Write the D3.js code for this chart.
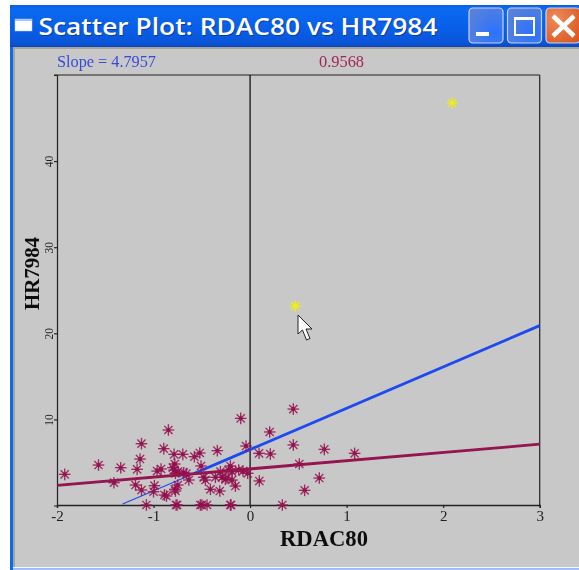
<!DOCTYPE html>
<html><head><meta charset="utf-8">
<script src="https://cdn.jsdelivr.net/npm/d3@7/dist/d3.min.js"></script>
<style>html,body{margin:0;padding:0;background:#fff;overflow:hidden}svg{display:block}</style>
</head><body><svg id="c" width="579" height="570"></svg>
<script>
const title = "Scatter Plot: RDAC80 vs HR7984";
const xLabel = "RDAC80", yLabel = "HR7984";
const slopeText = "Slope = 4.7957", slope2Text = "0.9568";
const xTicks = [-2,-1,0,1,2,3];
const yTicks = [10,20,30,40];
const pointsX = [-1.92,-1.57,-1.34,-1.41,-1.17,-1.14,-1.125,-0.846,-0.894,-0.787,-0.697,-0.577,-0.521,-0.339,-0.097,-0.042,0.093,0.21,0.203,0.448,0.448,0.51,0.769,1.083,0.717,0.565,0.096,-0.152,
 -1.074,-0.767,-0.756,-0.515,-0.5,-0.446,-0.204,-0.197,0.334,
 -0.963,-0.922,-0.78,-0.787,-0.773,-0.687,-0.508,-0.635,-0.48,-0.463,-0.411,-0.314,-0.359,-0.29,-0.307,-0.204,-0.221,-0.187,-0.118,-0.073,-0.025,-0.187,-0.256,-1.187,-1.125,-0.991,-0.887,-0.866,-0.78,-0.773,-0.749,-1.0,-0.745,-0.66,-0.8,-0.24];
const pointsY = [3.62,4.70,4.39,2.65,4.20,5.40,7.18,8.77,6.60,5.94,5.94,5.67,6.10,6.37,10.12,6.91,6.06,5.98,8.54,11.2,7.03,4.82,6.52,6.06,3.19,1.76,2.85,2.26,
 0.06,0.06,0.06,0.06,0.06,0.06,0.06,0.06,0.06,
 4.0,4.24,4.82,4.12,3.74,3.81,4.59,2.96,3.27,2.96,1.88,1.68,3.27,3.27,3.93,4.59,4.12,3.93,4.12,4.0,3.74,2.96,3.04,2.38,1.8,2.3,1.22,1.1,1.88,1.68,2.38,1.6,3.95,3.7,4.4,3.2];
const highlightX = [2.094,0.469];
const highlightY = [46.75,23.17];
const blueSlope = 4.7957, blueIntercept = 6.5;
const redSlope = 0.9568, redIntercept = 4.25;
const blueStart = -1.32, blueThinEnd = -0.58;

const svg = d3.select("#c");
const defs = svg.append("defs");
const blur = defs.append("filter").attr("id","soft").attr("x","-2%").attr("y","-2%").attr("width","104%").attr("height","104%");
blur.append("feGaussianBlur").attr("stdDeviation",0.35);
const barG = defs.append("linearGradient").attr("id","bar").attr("x1",0).attr("x2",0).attr("y1",0).attr("y2",1);
[[0,"#0a5fe6"],[0.1,"#0a6af0"],[0.5,"#0860ea"],[0.9,"#0a55d8"],[1,"#0c48c0"]].forEach(d=>barG.append("stop").attr("offset",d[0]).attr("stop-color",d[1]));
const btnG = defs.append("radialGradient").attr("id","btn").attr("cx",0.75).attr("cy",0.7).attr("r",0.9);
[[0,"#2a72ff"],[1,"#5c82d8"]].forEach(d=>btnG.append("stop").attr("offset",d[0]).attr("stop-color",d[1]));
const clsG = defs.append("radialGradient").attr("id","cls").attr("cx",0.3).attr("cy",0.3).attr("r",0.9);
[[0,"#ee8a5a"],[1,"#d9561e"]].forEach(d=>clsG.append("stop").attr("offset",d[0]).attr("stop-color",d[1]));

// window frame
svg.append("rect").attr("width",579).attr("height",570).attr("fill","#fff");
svg.append("rect").attr("x",10).attr("y",5).attr("width",569).attr("height",565).attr("fill","#0a6af0");
svg.append("rect").attr("x",10).attr("y",5).attr("width",569).attr("height",42).attr("fill","url(#bar)");
svg.append("rect").attr("x",13).attr("y",47).attr("width",566).attr("height",520).attr("fill","#a8a498");
svg.append("rect").attr("x",15).attr("y",49).attr("width",564).attr("height",518).attr("fill","#c8c8c8");
svg.append("rect").attr("x",13).attr("y",567).attr("width",566).attr("height",1.5).attr("fill","#f4f8ff");
svg.append("rect").attr("x",13).attr("y",568.5).attr("width",566).attr("height",1.5).attr("fill","#a8c4f4");

// title bar
const win = svg.append("g");
win.append("rect").attr("x",15).attr("y",19).attr("width",17).attr("height",12).attr("fill","#fff").attr("stroke","#bcd0f4").attr("stroke-width",0.5);
win.append("rect").attr("x",15).attr("y",19).attr("width",17).attr("height",2).attr("fill","#a9c8f0");
win.append("text").attr("x",38.5).attr("y",35).attr("fill","#0a2a90").attr("opacity",0.7).attr("transform","translate(1,1)")
  .attr("font-family","'Open Sans',sans-serif").attr("font-weight",600).attr("font-size",24).attr("textLength",399).attr("lengthAdjust","spacingAndGlyphs").text(title);
win.append("text").attr("x",38.5).attr("y",35).attr("fill","#fff")
  .attr("font-family","'Open Sans',sans-serif").attr("font-weight",600).attr("font-size",24).attr("textLength",399).attr("lengthAdjust","spacingAndGlyphs").text(title);
const btn = (x,w,f)=>win.append("rect").attr("x",x).attr("y",8).attr("width",w).attr("height",35).attr("rx",4).attr("fill",f).attr("stroke","#c4d4f4").attr("stroke-width",1.2);
btn(469,34,"url(#btn)"); btn(507.5,34,"url(#btn)"); btn(546,34,"url(#cls)");
win.append("rect").attr("x",476).attr("y",32).attr("width",13).attr("height",4).attr("fill","#fff");
win.append("rect").attr("x",515).attr("y",18).attr("width",19).attr("height",17).attr("fill","none").attr("stroke","#fff").attr("stroke-width",2);
win.append("rect").attr("x",514).attr("y",17).attr("width",21).attr("height",3).attr("fill","#fff");
win.append("path").attr("d","M553 16L574 36M574 16L553 36").attr("stroke","#fff").attr("stroke-width",4.5).attr("fill","none");

// plot
const x = d3.scaleLinear().domain([-2,3]).range([57,539.7]);
const y = d3.scaleLinear().domain([0,50]).range([505.5,75]);
const g = svg.append("g").attr("filter","url(#soft)");
const ink = "#222";

g.append("line").attr("x1",54).attr("x2",x(3)).attr("y1",y(50)).attr("y2",y(50)).attr("stroke",ink).attr("stroke-width",1.2);
g.append("line").attr("x1",x(0)).attr("x2",x(0)).attr("y1",y(50)).attr("y2",y(0)).attr("stroke","#111").attr("stroke-width",1.3);
g.append("line").attr("x1",x(3)).attr("x2",x(3)).attr("y1",y(50)).attr("y2",y(0)).attr("stroke",ink).attr("stroke-width",1.2);

const axX = g.append("g").attr("transform",`translate(0,${y(0)-0.5})`)
  .call(d3.axisBottom(x).tickValues(xTicks).tickSize(3).tickPadding(2).tickFormat(d=>String(d)));
const axY = g.append("g").attr("transform",`translate(${x(-2)},0)`)
  .call(d3.axisLeft(y).tickValues(yTicks).tickSize(3).tickPadding(2).tickFormat(d3.format("d")));
[axX,axY].forEach(a=>{a.selectAll(".domain,line").attr("stroke",ink).attr("stroke-width",1.2);
  a.selectAll("text").attr("fill","#222").attr("font-family","'Liberation Serif',serif");});
axX.select(".domain").attr("stroke-width",1.4);
axX.selectAll("text").attr("font-size",15);
axY.selectAll("text").attr("font-size",11.5).attr("text-anchor","middle")
  .each(function(){d3.select(this).attr("transform","translate(-4.5,0) rotate(-90)").attr("x",0).attr("y",0).attr("dy","0em");});

// asterisk symbol (8 spokes with centre dot)
const spokes = d3.range(8).map(i=>i*Math.PI/4);
function drawStar(sel, color){
  sel.each(function(d){
    const s = d3.select(this).attr("transform",`translate(${x(d[0])},${y(d[1])})`);
    s.selectAll("line").data(spokes).join("line")
      .attr("x2",a=>Math.cos(a)*5.8).attr("y2",a=>Math.sin(a)*5.8)
      .attr("stroke",color).attr("stroke-width",1.35).attr("stroke-opacity",0.85);
    s.append("circle").attr("r",2).attr("fill",color);
  });
}
// regression lines
const lineBlue = v=>blueIntercept+blueSlope*v, lineRed = v=>redIntercept+redSlope*v;
g.append("line").attr("x1",x(blueStart)).attr("y1",y(lineBlue(blueStart))).attr("x2",x(blueThinEnd)).attr("y2",y(lineBlue(blueThinEnd)))
  .attr("stroke","#1f48f0").attr("stroke-width",1.2);
g.append("line").attr("x1",x(blueThinEnd)).attr("y1",y(lineBlue(blueThinEnd))).attr("x2",x(3)).attr("y2",y(lineBlue(3)))
  .attr("stroke","#1f48f0").attr("stroke-width",2.8);

g.append("g").selectAll("g").data(d3.zip(pointsX,pointsY)).join("g").call(drawStar,"#93124f");
g.append("line").attr("x1",x(-2)).attr("y1",y(lineRed(-2))).attr("x2",x(3)).attr("y2",y(lineRed(3)))
  .attr("stroke","#93124f").attr("stroke-width",2.8);
g.append("g").selectAll("g").data(d3.zip(highlightX,highlightY)).join("g").call(drawStar,"#f4f000");

// texts
g.append("text").attr("x",57).attr("y",66.5).attr("fill","#3a4ad8").attr("font-family","'Liberation Serif',serif").attr("font-size",16).attr("textLength",99).attr("lengthAdjust","spacingAndGlyphs").text(slopeText);
g.append("text").attr("x",319).attr("y",66.5).attr("fill","#a02858").attr("font-family","'Liberation Serif',serif").attr("font-size",16).attr("textLength",45).attr("lengthAdjust","spacingAndGlyphs").text(slope2Text);
g.append("text").attr("x",324).attr("y",546).attr("text-anchor","middle").attr("fill","#111").attr("font-family","'Liberation Serif',serif").attr("font-weight","bold").attr("font-size",22.5).attr("textLength",88).attr("lengthAdjust","spacingAndGlyphs").text(xLabel);
g.append("text").attr("transform","translate(39,273.5) rotate(-90)").attr("text-anchor","middle").attr("fill","#111").attr("font-family","'Liberation Serif',serif").attr("font-weight","bold").attr("font-size",21).attr("textLength",73).attr("lengthAdjust","spacingAndGlyphs").text(yLabel);

// mouse pointer from the screenshot
svg.append("path").attr("d","M298 315L298 334L302.5 330L306.5 340L310 338.5L306 329L312 329Z").attr("fill","#fff").attr("stroke","#222").attr("stroke-width",1).attr("stroke-linejoin","round");
</script></body></html>
